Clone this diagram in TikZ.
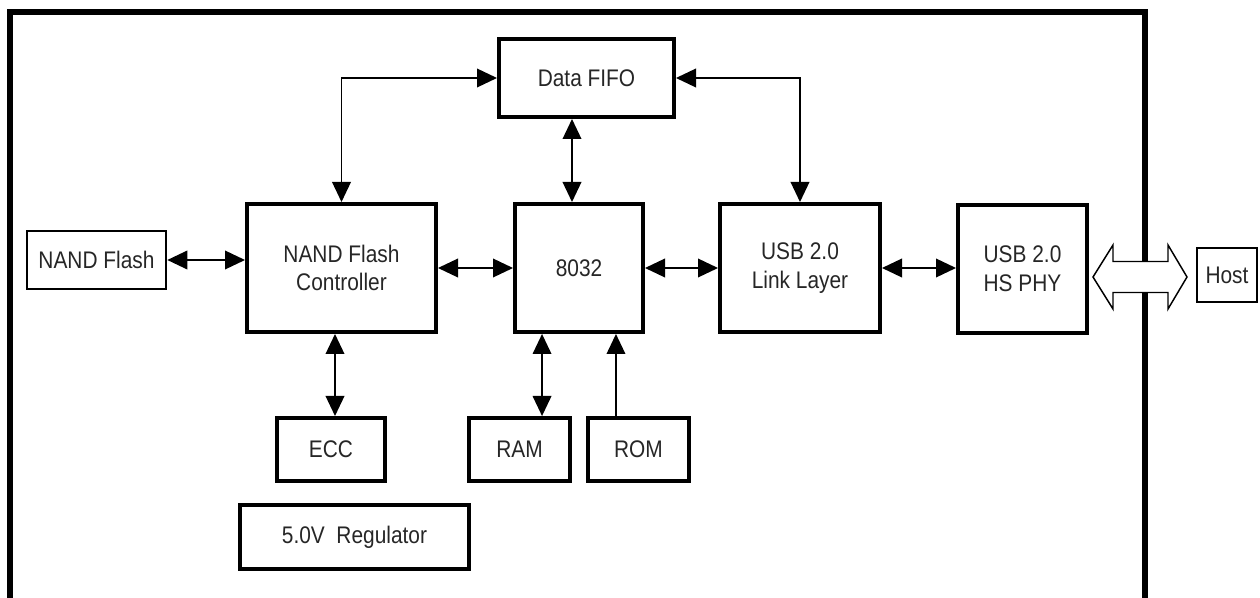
\documentclass[tikz,border=0pt]{standalone}
\usepackage{fontspec}
\setmainfont[FakeStretch=0.87]{Liberation Sans}
\usetikzlibrary{arrows.meta}

\begin{document}
\begin{tikzpicture}[x=0.75pt,y=0.75pt,yscale=-1,xscale=1,
  blk/.style={draw, line width=3pt, inner sep=0pt, align=center, text=black!85, font=\fontsize{18}{21.5}\selectfont},
  ext/.style={blk, line width=2pt},
  bus/.style={line width=1.1pt, {Triangle[length=15pt,width=14pt]}-{Triangle[length=15pt,width=14pt]}},
  upbus/.style={line width=1.1pt, -{Triangle[length=15pt,width=14pt]}}]
\useasboundingbox (0,0) rectangle (1260,598);

%Shape: Chip outline (bottom edge falls off the page)
\draw [line width=4.5pt] (10,640) -- (10,12) -- (1145,12) -- (1145,640) ;

%Shape: Rectangle
\node [blk, minimum width=131.25pt, minimum height=58.5pt] (fifo) at (586.5,78) {Data FIFO};
%Shape: Rectangle
\node [ext, minimum width=104.25pt, minimum height=43.5pt] (nand) at (96.5,260) {NAND Flash};
%Shape: Rectangle
\node [blk, minimum width=141.75pt, minimum height=96pt] (nfc) at (341.5,268) {NAND Flash\\Controller};
%Shape: Rectangle
\node [blk, minimum width=96pt, minimum height=96pt] (cpu) at (579,268) {8032};
%Shape: Rectangle
\node [blk, minimum width=120pt, minimum height=96pt] (usblink) at (800,268) {USB 2.0\\Link Layer};
%Shape: Rectangle
\node [blk, minimum width=96.75pt, minimum height=96pt] (phy) at (1022.5,269) {USB 2.0\\HS PHY};
%Shape: Rectangle
\node [blk, line width=1.5pt, minimum width=45pt, minimum height=40.5pt] (host) at (1227,275) {Host};
%Shape: Rectangle
\node [blk, minimum width=81pt, minimum height=47.25pt] (ecc) at (331,449.5) {ECC};
%Shape: Rectangle
\node [blk, minimum width=75.75pt, minimum height=47.25pt] (ram) at (519.5,449.5) {RAM};
%Shape: Rectangle
\node [blk, minimum width=75.75pt, minimum height=47.25pt] (rom) at (638.5,449.5) {ROM};
%Shape: Rectangle
\node [blk, minimum width=171.75pt, minimum height=48pt] (reg) at (354.5,537) {5.0V\ \ Regulator};

%Straight Lines
\draw [bus] (nand.east) -- (nand.east -| nfc.west) ;
\draw [bus] (nfc.east) -- (cpu.west) ;
\draw [bus] (cpu.east) -- (usblink.west) ;
\draw [bus] (usblink.east) -- (usblink.east -| phy.west) ;
%Elbow Lines
\draw [bus] (fifo.west) -| (nfc.north) ;
\draw [bus] (fifo.east) -| (usblink.north) ;
%Vertical Lines
\draw [bus] ([xshift=-5.25pt]cpu.north) -- ([xshift=-5.25pt]cpu.north |- fifo.south) ;
\draw [bus] ([xshift=3pt]ecc.north) -- ([xshift=3pt]ecc.north |- nfc.south) ;
\draw [bus] ([xshift=16.9pt]ram.north) -- ([xshift=16.9pt]ram.north |- cpu.south) ;
\draw [upbus] ([xshift=-16.9pt]rom.north) -- ([xshift=-16.9pt]rom.north |- cpu.south) ;

%Shape: Double Arrow (host interface)
\draw [line width=1.1pt, fill=white] (1093,277) -- (1113,245) -- (1113,261.5) -- (1168,261.5) -- (1168,245) -- (1187,277) -- (1168,309) -- (1168,292.5) -- (1113,292.5) -- (1113,309) -- cycle ;

\end{tikzpicture}
\end{document}
